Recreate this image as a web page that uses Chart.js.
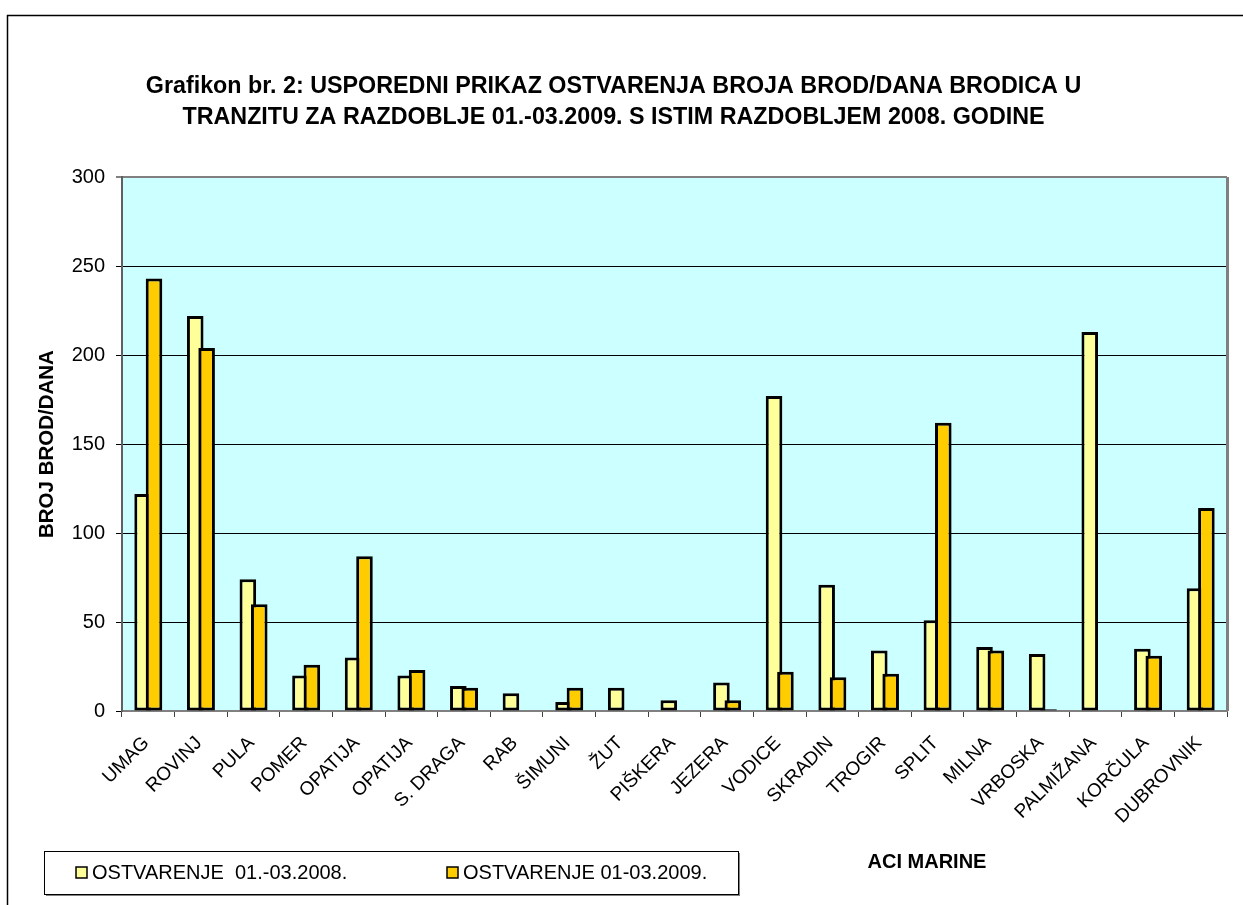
<!DOCTYPE html>
<html>
<head>
<meta charset="utf-8">
<script src="https://cdn.jsdelivr.net/npm/chart.js@4.4.1/dist/chart.umd.min.js"></script>
<style>
  html, body { margin: 0; padding: 0; background: #fff; }
  #wrap { position: absolute; left: 0; top: 0; width: 1243px; height: 905px; }
</style>
</head>
<body>
<div id="wrap"><canvas id="c" width="1243" height="905"></canvas></div>
<script>
const titleLines = [
  'Grafikon br. 2: USPOREDNI PRIKAZ OSTVARENJA BROJA BROD/DANA BRODICA U',
  'TRANZITU ZA RAZDOBLJE 01.-03.2009. S ISTIM RAZDOBLJEM 2008. GODINE'
];
const categories = ['UMAG','ROVINJ','PULA','POMER','OPATIJA','OPATIJA','S. DRAGA','RAB','ŠIMUNI','ŽUT','PIŠKERA','JEZERA','VODICE','SKRADIN','TROGIR','SPLIT','MILNA','VRBOSKA','PALMIŽANA','KORČULA','DUBROVNIK'];
const values2008 = [122,222,74,20,30,20,14,10,5,13,6,16,177,71,34,51,36,32,213,35,69];
const values2009 = [243,204,60,26,87,23,13,null,13,null,null,6,22,19,21,162,34,1,null,31,114];
const seriesNames = ['OSTVARENJE  01.-03.2008.', 'OSTVARENJE 01-03.2009.'];
const yTitle = 'BROJ BROD/DANA';
const xTitle = 'ACI MARINE';
const yMin = 0, yMax = 300, yStep = 50;

const FONT = "Arial, 'Liberation Sans', sans-serif";
const C2008 = '#FFFF99', C2009 = '#FFCC00';

// Draw the 2009 series on top of the 2008 series (overlapping bars, as in the original)
const drawOrder = {
  id: 'drawOrder',
  beforeDatasetDraw(chart, args) {
    if (args.index === 1) return false;
  },
  afterDatasetDraw(chart, args) {
    if (args.index === 0) {
      chart.getDatasetMeta(1).controller.draw();
    }
  }
};

const decor = {
  id: 'decor',
  beforeDraw(chart) {
    const ctx = chart.ctx, a = chart.chartArea;
    ctx.save();
    ctx.fillStyle = '#fff';
    ctx.fillRect(0, 0, chart.width, chart.height);
    // outer frame
    ctx.strokeStyle = '#000';
    ctx.lineWidth = 1.5;
    ctx.beginPath();
    ctx.moveTo(7.5, chart.height + 5);
    ctx.lineTo(7.5, 15.5);
    ctx.lineTo(chart.width + 5, 15.5);
    ctx.stroke();
    // plot background
    ctx.fillStyle = '#CCFFFF';
    ctx.fillRect(a.left, a.top, a.right - a.left, a.bottom - a.top);
    ctx.restore();
  },
  afterDraw(chart) {
    const ctx = chart.ctx, a = chart.chartArea;
    ctx.save();
    // right plot border
    ctx.strokeStyle = '#808080';
    ctx.lineWidth = 3;
    ctx.beginPath();
    ctx.moveTo(a.right + 0.5, a.top);
    ctx.lineTo(a.right + 0.5, a.bottom);
    ctx.stroke();
    // legend box
    const bx = 44, by = 851, bw = 694, bh = 43;
    ctx.fillStyle = '#808080';
    ctx.fillRect(bx + 2, by + bh, bw, 2);
    ctx.fillRect(bx + bw, by + 2, 2, bh);
    ctx.fillStyle = '#fff';
    ctx.fillRect(bx, by, bw, bh);
    ctx.strokeStyle = '#000';
    ctx.lineWidth = 1;
    ctx.strokeRect(bx + 0.5, by + 0.5, bw, bh);
    const itemX = [76, 447];
    ctx.font = '20px ' + FONT;
    ctx.textBaseline = 'middle';
    ctx.textAlign = 'left';
    chart.data.datasets.forEach((ds, i) => {
      const x = itemX[i], y = 867;
      ctx.fillStyle = ds.backgroundColor;
      ctx.fillRect(x, y, 11, 11);
      ctx.lineWidth = 1.5;
      ctx.strokeStyle = '#000';
      ctx.strokeRect(x, y, 11, 11);
      ctx.fillStyle = '#000';
      ctx.fillText(ds.label, x + 16, y + 6);
    });
    // x axis title
    ctx.font = 'bold 20px ' + FONT;
    ctx.textAlign = 'center';
    ctx.fillText(xTitle, 927, 862);
    ctx.restore();
  }
};

new Chart(document.getElementById('c'), {
  type: 'bar',
  data: {
    labels: categories,
    datasets: [
      { label: seriesNames[0], data: values2008, backgroundColor: C2008, borderColor: '#000', borderWidth: 3, borderSkipped: false },
      { label: seriesNames[1], data: values2009, backgroundColor: C2009, borderColor: '#000', borderWidth: 3, borderSkipped: false }
    ]
  },
  options: {
    responsive: false,
    animation: false,
    events: [],
    categoryPercentage: 0.433,
    barPercentage: 1.456,
    layout: { padding: { left: 0, right: 16, top: 0, bottom: 0 } },
    plugins: {
      legend: { display: false },
      tooltip: { enabled: false },
      title: {
        display: true,
        text: titleLines,
        color: '#000',
        font: { family: FONT, size: 23.3, weight: 'bold', lineHeight: 1.29 },
        padding: { top: 72, bottom: 45 }
      }
    },
    scales: {
      x: {
        grid: { display: true, drawOnChartArea: false, drawTicks: true, tickLength: 6, color: '#404040', lineWidth: 1 },
        border: { display: true, color: '#808080', width: 2 },
        ticks: {
          autoSkip: false, maxRotation: 45, minRotation: 45,
          color: '#000', font: { family: FONT, size: 19 }, padding: 15, labelOffset: -2
        },
        afterFit(scale) { scale.height = 194; }
      },
      y: {
        min: yMin, max: yMax,
        grid: {
          color: (c) => c.tick && c.tick.value === yMax ? '#808080' : '#000',
          lineWidth: (c) => c.tick && c.tick.value === yMax ? 2 : 1,
          tickLength: 6
        },
        border: { display: true, color: '#606060', width: 2 },
        ticks: { stepSize: yStep, color: '#000', font: { family: FONT, size: 20 }, padding: 11 },
        title: {
          display: true, text: yTitle, color: '#000',
          font: { family: FONT, size: 20.5, weight: 'bold', lineHeight: 1.2 },
          padding: { top: 35, bottom: 0 }
        },
        afterFit(scale) { scale.width = 122; }
      }
    }
  },
  plugins: [drawOrder, decor]
});
</script>
</body>
</html>
